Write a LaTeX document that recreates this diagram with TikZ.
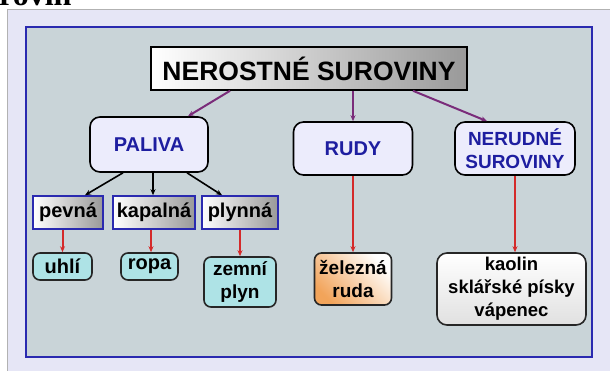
\documentclass[tikz,border=0pt]{standalone}
\usepackage{fontspec}
\setmainfont{Liberation Sans}
\newfontfamily\headserif{Liberation Serif}
\usepackage{xcolor}
\usepackage{tikz}
\usetikzlibrary{arrows.meta}
\definecolor{lavback}{HTML}{E6E6F6}
\definecolor{panel}{HTML}{C9D4D8}
\definecolor{frameblue}{HTML}{2A2AB0}
\definecolor{textblue}{HTML}{1E1EA0}
\definecolor{boxlav}{HTML}{ECECFC}
\definecolor{arrowpurple}{HTML}{7A2C7A}
\definecolor{linered}{HTML}{D42A2A}
\definecolor{cyanbox}{HTML}{AEE3E6}
\definecolor{orangebox}{HTML}{F2A45A}

\begin{document}
\begin{tikzpicture}[x=1pt,y=-1pt,
  every node/.style={font=\bfseries\fontsize{20}{23}\selectfont, align=center, inner sep=0pt},
  groupbox/.style={draw=black, line width=1.6pt, rounded corners=10pt, fill=boxlav, text=textblue},
  kindbox/.style={draw=frameblue, line width=1.6pt, left color=white, right color=black!40, text=black},
  itembox/.style={draw=black!85, line width=1.6pt, rounded corners=7pt, text=black},
  toparrow/.style={draw=arrowpurple, line width=2pt, -{Stealth[length=6pt,width=5pt]}},
  subarrow/.style={draw=black, line width=1.6pt, -{Stealth[length=6pt,width=5pt]}},
  redarrow/.style={draw=linered, line width=2pt, -{Stealth[length=6pt,width=5pt]}}]
\useasboundingbox (0,0) rectangle (610,371);
\clip (0,0) rectangle (610,371);
\fill[white] (0,0) rectangle (610,371);
\node[anchor=base west, font=\headserif\bfseries\fontsize{32}{34}\selectfont] (heading) at (-1,6) {rovin};
\draw[draw=black!30, fill=lavback, line width=0.6pt] (7,9) rectangle (615,376);
\draw[draw=frameblue, fill=panel, line width=2pt] (26,27) rectangle (592,357);

\node[draw=black, line width=1.6pt, left color=white, right color=black!40,
      minimum width=316pt, minimum height=43pt,
      font=\bfseries\fontsize{26.5}{29}\selectfont] (title) at (309,68.5) {NEROSTNÉ SUROVINY};

\node[groupbox, minimum width=118pt, minimum height=55pt] (paliva) at (149,144.5) {PALIVA};
\node[groupbox, minimum width=119pt, minimum height=53pt] (rudy) at (353,148.5) {RUDY};
\node[groupbox, minimum width=120pt, minimum height=53pt,
      font=\bfseries\fontsize{19}{23}\selectfont] (nerudne) at (515,148.5) {NERUDNÉ\\SUROVINY};

\node[kindbox, minimum width=70pt, minimum height=33pt] (pevna) at (68,212.5) {pevná};
\node[kindbox, minimum width=82pt, minimum height=33pt] (kapalna) at (154,212.5) {kapalná};
\node[kindbox, minimum width=76pt, minimum height=33pt] (plynna) at (240,212.5) {plynná};

\node[itembox, fill=cyanbox, minimum width=59pt, minimum height=27pt] (uhli) at (62.5,266.5) {uhlí};
\node[itembox, fill=cyanbox, minimum width=57pt, minimum height=27pt] (ropa) at (149.5,266.5) {ropa};
\node[itembox, fill=cyanbox, minimum width=72pt, minimum height=50pt,
      font=\bfseries\fontsize{19}{23}\selectfont] (zemni) at (240,282) {zemní\\plyn};
\node[itembox, top color=white, bottom color=orangebox, shading angle=-45,
      minimum width=77pt, minimum height=52pt,
      font=\bfseries\fontsize{19}{23}\selectfont] (zelezna) at (353,279) {železná\\ruda};
\node[itembox, rounded corners=10pt, top color=white, bottom color=black!12,
      minimum width=149pt, minimum height=72pt,
      font=\bfseries\fontsize{18.5}{23}\selectfont] (kaolin) at (511.5,289) {kaolin\\sklářské písky\\vápenec};

\draw[toparrow] ([xshift=-79pt]title.south) -- ([xshift=39pt]paliva.north);
\draw[toparrow] (title.south -| rudy.north) -- (rudy.north);
\draw[toparrow] ([xshift=104pt]title.south) -- ([xshift=-28pt]nerudne.north);

\draw[subarrow] ([xshift=-26pt]paliva.south) -- ([xshift=17pt]pevna.north);
\draw[subarrow] ([xshift=4pt]paliva.south) -- ([xshift=-1pt]kapalna.north);
\draw[subarrow] ([xshift=38pt]paliva.south) -- ([xshift=-18pt]plynna.north);

\draw[redarrow] (uhli.north |- pevna.south) -- (uhli.north);
\draw[redarrow] ([xshift=1.5pt]ropa.north |- kapalna.south) -- ([xshift=1.5pt]ropa.north);
\draw[redarrow] (plynna.south) -- (zemni.north);
\draw[redarrow] (rudy.south) -- (zelezna.north);
\draw[redarrow] (nerudne.south) -- (nerudne.south |- kaolin.north);
\end{tikzpicture}
\end{document}
